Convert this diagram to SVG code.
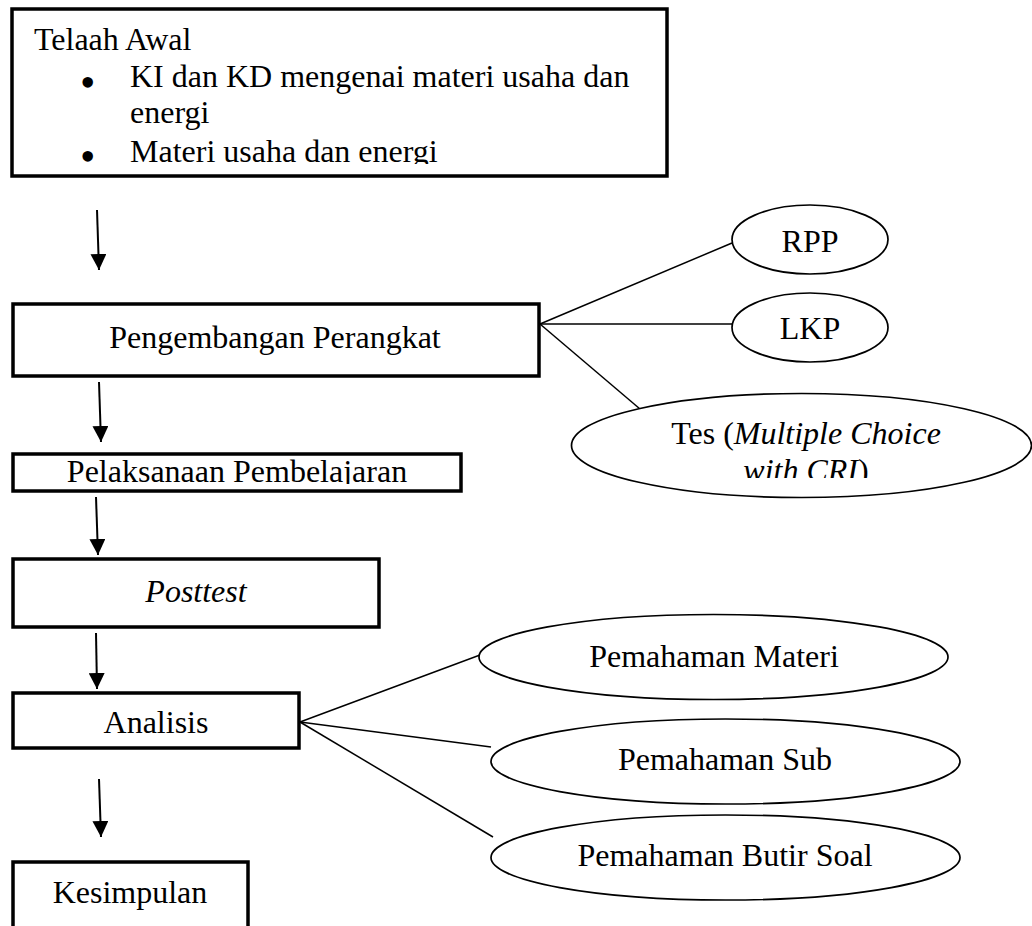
<svg xmlns="http://www.w3.org/2000/svg" width="1032" height="926" viewBox="0 0 1032 926">
  <style>
    .box { fill: #ffffff; stroke: #000000; stroke-width: 3.5; }
    .ell { fill: #ffffff; stroke: #000000; stroke-width: 1.7; }
    .t { font-family: "Liberation Serif", "Times New Roman", serif; font-size: 32px; fill: #000000; }
    .b { font-family: "Liberation Serif", "Times New Roman", serif; font-size: 44px; fill: #000000; }
    .c { text-anchor: middle; }
    .i { font-style: italic; }
    .conn line { stroke: #000000; stroke-width: 1.5; fill: none; }
    .conn line.arr { stroke-width: 2; marker-end: url(#ah); }
  </style>
  <defs>
    <marker id="ah" markerUnits="userSpaceOnUse" markerWidth="16" markerHeight="16" refX="16" refY="8" orient="auto">
      <path d="M0,0 L16,8 L0,16 z" fill="#000000"/>
    </marker>
    <clipPath id="clipTop"><rect x="0" y="0" width="1032" height="164"/></clipPath>
    <clipPath id="clipPel"><rect x="0" y="440" width="500" height="44"/></clipPath>
    <clipPath id="clipTes"><rect x="560" y="380" width="472" height="98"/></clipPath>
  </defs>
  <rect width="1032" height="926" fill="#ffffff"/>

  <g id="connectors" class="conn">
    <line class="arr" x1="97" y1="210" x2="99" y2="270"/>
    <line class="arr" x1="99" y1="382" x2="101" y2="442"/>
    <line class="arr" x1="96" y1="497" x2="98" y2="555"/>
    <line class="arr" x1="96" y1="633" x2="97" y2="689"/>
    <line class="arr" x1="99" y1="779" x2="101" y2="837"/>
    <line x1="540" y1="324" x2="732" y2="243"/>
    <line x1="540" y1="324" x2="732" y2="324"/>
    <line x1="540" y1="324" x2="640" y2="409"/>
    <line x1="300" y1="722" x2="480" y2="655"/>
    <line x1="300" y1="722" x2="491" y2="747"/>
    <line x1="300" y1="722" x2="493" y2="837"/>
  </g>

  <g id="telaah-awal">
    <rect class="box" x="12" y="9" width="655" height="167"/>
    <text class="b" x="80" y="97">•</text>
    <text class="b" x="80" y="171">•</text>
    <g clip-path="url(#clipTop)">
      <text class="t" x="34" y="50">Telaah Awal</text>
      <text class="t" x="130" y="87">KI dan KD mengenai materi usaha dan</text>
      <text class="t" x="130" y="123">energi</text>
      <text class="t" x="130" y="162">Materi usaha dan energi</text>
    </g>
  </g>

  <g id="pengembangan">
    <rect class="box" x="13" y="304" width="526" height="72"/>
    <text class="t c" x="275" y="348">Pengembangan Perangkat</text>
  </g>

  <g id="rpp">
    <ellipse class="ell" cx="810" cy="239.5" rx="78" ry="34.5"/>
    <text class="t c" x="810" y="252">RPP</text>
  </g>

  <g id="lkp">
    <ellipse class="ell" cx="810" cy="327.5" rx="78" ry="34.5"/>
    <text class="t c" x="810" y="339">LKP</text>
  </g>

  <g id="tes">
    <ellipse class="ell" cx="801.5" cy="445.5" rx="230" ry="52"/>
    <g clip-path="url(#clipTes)">
      <text class="t c" x="806" y="444">Tes (<tspan class="i">Multiple Choice</tspan></text>
      <text class="t c i" x="806" y="481">with CRI<tspan font-style="normal">)</tspan></text>
    </g>
  </g>

  <g id="pelaksanaan">
    <rect class="box" x="13" y="454" width="448" height="37"/>
    <g clip-path="url(#clipPel)">
      <text class="t c" x="237" y="482">Pelaksanaan Pembelajaran</text>
    </g>
  </g>

  <g id="posttest">
    <rect class="box" x="13" y="559" width="366" height="68"/>
    <text class="t c i" x="196" y="602">Posttest</text>
  </g>

  <g id="analisis">
    <rect class="box" x="13" y="693" width="286" height="55"/>
    <text class="t c" x="156" y="733">Analisis</text>
  </g>

  <g id="pemahaman-materi">
    <ellipse class="ell" cx="713.5" cy="657" rx="234.5" ry="42.5"/>
    <text class="t c" x="714" y="667">Pemahaman Materi</text>
  </g>

  <g id="pemahaman-sub">
    <ellipse class="ell" cx="725.5" cy="761.5" rx="234.5" ry="42.5"/>
    <text class="t c" x="725" y="770">Pemahaman Sub</text>
  </g>

  <g id="pemahaman-butir-soal">
    <ellipse class="ell" cx="725.5" cy="857.5" rx="234.5" ry="42.5"/>
    <text class="t c" x="725" y="866">Pemahaman Butir Soal</text>
  </g>

  <g id="kesimpulan">
    <rect class="box" x="13" y="862" width="235" height="80"/>
    <text class="t c" x="130" y="903">Kesimpulan</text>
  </g>
</svg>
